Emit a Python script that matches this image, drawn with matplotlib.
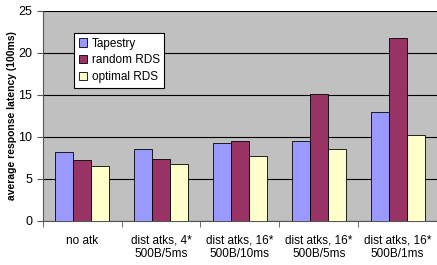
import matplotlib.pyplot as plt
import numpy as np

plt.rcParams['font.family'] = ['Liberation Sans', 'DejaVu Sans']

categories = ["no atk", "dist atks, 4*\n500B/5ms", "dist atks, 16*\n500B/10ms",
              "dist atks, 16*\n500B/5ms", "dist atks, 16*\n500B/1ms"]
tapestry = [8.2, 8.5, 9.3, 9.5, 12.9]
random_rds = [7.2, 7.3, 9.45, 15.05, 21.7]
optimal_rds = [6.55, 6.7, 7.7, 8.5, 10.2]
series_names = ["Tapestry", "random RDS", "optimal RDS"]

fig = plt.figure(figsize=(4.37, 2.65), dpi=100)
ax = fig.add_axes([0.098, 0.167, 0.902, 0.793])
ax.set_facecolor("#C0C0C0")

x = np.arange(len(categories))
w = 0.228
colors = ["#9999FF", "#993366", "#FFFFCC"]
for i, (vals, name) in enumerate(zip([tapestry, random_rds, optimal_rds], series_names)):
    ax.bar(x + (i - 1) * w, vals, w, color=colors[i], edgecolor="black",
           linewidth=0.6, label=name, zorder=3)

ax.set_xlim(-0.5, len(categories) - 0.5)
ax.set_ylim(0, 25)
ax.set_yticks([0, 5, 10, 15, 20, 25])
ax.yaxis.grid(True, color="black", linewidth=0.8, zorder=1)
ax.set_axisbelow(True)

ax.set_xticks(x)
ax.set_xticklabels(categories, fontsize=8.5)
ax.tick_params(axis="x", length=0, pad=10)
ax.set_xticks(np.arange(-0.5, len(categories), 1), minor=True)
ax.tick_params(axis="x", which="minor", length=4, direction="out", color="#555555")
ax.tick_params(axis="y", labelsize=9, length=4, direction="out", color="#555555")

for s in ["top", "right"]:
    ax.spines[s].set_visible(False)
ax.spines["left"].set_color("#555555")
ax.spines["bottom"].set_color("#555555")

ax.set_ylabel("average response latency (100ms)", fontsize=7.5, fontweight="bold",
              labelpad=1)

leg = ax.legend(loc="upper left", bbox_to_anchor=(0.079, 0.894), fontsize=8.5,
                frameon=True, fancybox=False, edgecolor="black", facecolor="white",
                framealpha=1, handlelength=0.7, handleheight=0.7, handletextpad=0.4,
                borderpad=0.4, labelspacing=0.4, borderaxespad=0)
leg.get_frame().set_linewidth(0.8)

plt.savefig("out.png", dpi=100)
